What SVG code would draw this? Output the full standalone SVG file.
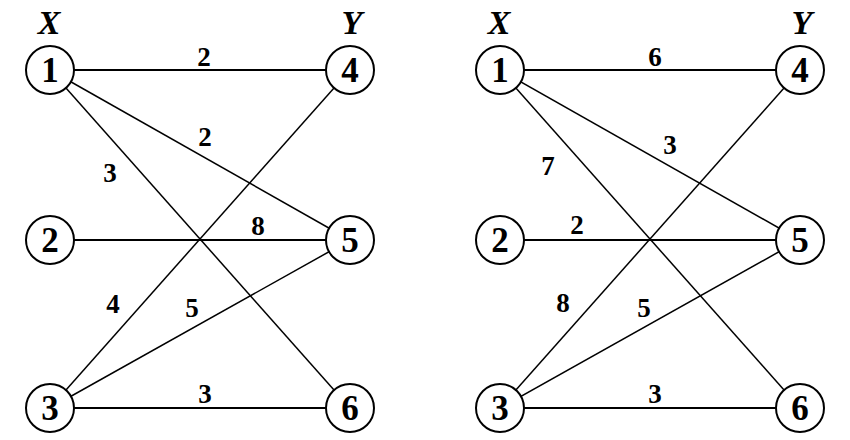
<svg xmlns="http://www.w3.org/2000/svg" width="850" height="440" viewBox="0 0 850 440">
<style>
.n circle{fill:#fff;stroke:#000;stroke-width:2}
.n text{font-family:'Liberation Serif',Tinos,'Times New Roman',Times,serif;font-weight:bold;font-size:35px;text-anchor:middle;fill:#000}
.h{font-family:'Liberation Serif',Tinos,'Times New Roman',Times,serif;font-weight:bold;font-style:italic;font-size:34px;text-anchor:middle;fill:#000}
.e line{stroke:#000;stroke-width:1.5}
.e line.hz{stroke-width:2}
.w{font-family:'Liberation Serif',Tinos,'Times New Roman',Times,serif;font-weight:bold;font-size:27px;text-anchor:middle;fill:#000}
</style>
<rect width="850" height="440" fill="#fff"/>
<text class="h" x="49" y="34">X</text>
<text class="h" x="352" y="34">Y</text>
<text class="h" x="499" y="34">X</text>
<text class="h" x="802" y="34">Y</text>
<g id="connectors" class="e">
<line class="hz" x1="50" y1="70" x2="350" y2="70"/>
<line x1="50" y1="70" x2="350" y2="240"/>
<line x1="50" y1="70" x2="350" y2="408"/>
<line class="hz" x1="50" y1="240" x2="350" y2="240"/>
<line x1="50" y1="408" x2="350" y2="70"/>
<line x1="50" y1="408" x2="350" y2="240"/>
<line class="hz" x1="50" y1="408" x2="350" y2="408"/>
<line class="hz" x1="500" y1="70" x2="800" y2="70"/>
<line x1="500" y1="70" x2="800" y2="240"/>
<line x1="500" y1="70" x2="800" y2="408"/>
<line class="hz" x1="500" y1="240" x2="800" y2="240"/>
<line x1="500" y1="408" x2="800" y2="70"/>
<line x1="500" y1="408" x2="800" y2="240"/>
<line class="hz" x1="500" y1="408" x2="800" y2="408"/>
</g>
<g id="labels">
<text class="w" x="204" y="66">2</text>
<text class="w" x="205" y="146">2</text>
<text class="w" x="110" y="182">3</text>
<text class="w" x="258" y="235">8</text>
<text class="w" x="113" y="313">4</text>
<text class="w" x="192" y="317">5</text>
<text class="w" x="205" y="403">3</text>
<text class="w" x="655" y="66">6</text>
<text class="w" x="670" y="154">3</text>
<text class="w" x="548" y="175">7</text>
<text class="w" x="577" y="234">2</text>
<text class="w" x="563" y="312">8</text>
<text class="w" x="644" y="317">5</text>
<text class="w" x="655" y="403">3</text>
</g>
<g id="L1" class="n"><circle cx="50" cy="70" r="24"/><text x="50" y="82">1</text></g>
<g id="L2" class="n"><circle cx="50" cy="240" r="24"/><text x="50" y="252">2</text></g>
<g id="L3" class="n"><circle cx="50" cy="408" r="24"/><text x="50" y="420">3</text></g>
<g id="L4" class="n"><circle cx="350" cy="70" r="24"/><text x="350" y="82">4</text></g>
<g id="L5" class="n"><circle cx="350" cy="240" r="24"/><text x="350" y="252">5</text></g>
<g id="L6" class="n"><circle cx="350" cy="408" r="24"/><text x="350" y="420">6</text></g>
<g id="R1" class="n"><circle cx="500" cy="70" r="24"/><text x="500" y="82">1</text></g>
<g id="R2" class="n"><circle cx="500" cy="240" r="24"/><text x="500" y="252">2</text></g>
<g id="R3" class="n"><circle cx="500" cy="408" r="24"/><text x="500" y="420">3</text></g>
<g id="R4" class="n"><circle cx="800" cy="70" r="24"/><text x="800" y="82">4</text></g>
<g id="R5" class="n"><circle cx="800" cy="240" r="24"/><text x="800" y="252">5</text></g>
<g id="R6" class="n"><circle cx="800" cy="408" r="24"/><text x="800" y="420">6</text></g>
</svg>
